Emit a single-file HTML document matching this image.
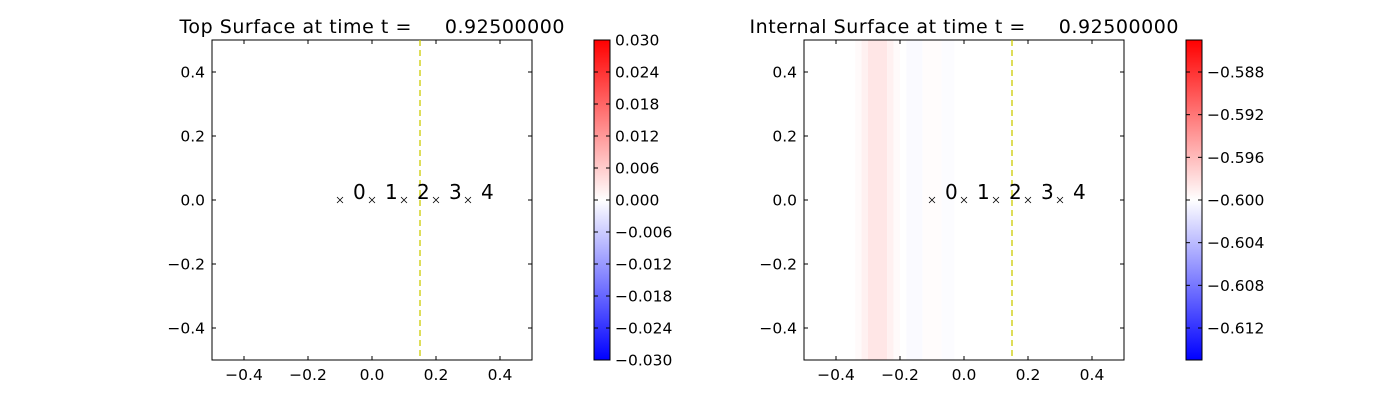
<!DOCTYPE html>
<html><head><meta charset="utf-8"><style>
body{margin:0;background:#fff;}
svg text{font-family:"DejaVu Sans","Liberation Sans",sans-serif;}
</style></head><body>
<svg id="chart" width="1400" height="400" xmlns="http://www.w3.org/2000/svg">
<defs>
<linearGradient id="bwr" x1="0" y1="1" x2="0" y2="0">
<stop offset="0" stop-color="#0000ff"/><stop offset="0.5" stop-color="#ffffff"/><stop offset="1" stop-color="#ff0000"/>
</linearGradient>
</defs>
</svg>
<script>
const axisTicks=[-0.4,-0.2,0.0,0.2,0.4];
const markerX=[-0.1,0.0,0.1,0.2,0.3];
const markerLabels=["0","1","2","3","4"];
const dashX=0.15;
const leftCbTicks=[0.030,0.024,0.018,0.012,0.006,0.000,-0.006,-0.012,-0.018,-0.024,-0.030];
const rightCbTicks=[-0.588,-0.592,-0.596,-0.600,-0.604,-0.608,-0.612];
const stripStart=[-0.34,-0.32,-0.30,-0.24,-0.22,-0.18,-0.13,-0.07];
const stripEnd=[-0.32,-0.30,-0.24,-0.22,-0.20,-0.13,-0.07,-0.03];
const stripValue=[-0.5997,-0.5992,-0.5985,-0.5992,-0.5997,-0.6003,-0.59985,-0.6002];
const titles=["Top Surface at time t =     0.92500000","Internal Surface at time t =     0.92500000"];
const titleWidths=[385,429];

const svg=document.getElementById('chart');
const NS='http://www.w3.org/2000/svg';
function mk(tag,attrs,parent){const e=document.createElementNS(NS,tag);for(const k in attrs)e.setAttribute(k,attrs[k]);(parent||svg).appendChild(e);return e;}
function bwr(f){f=Math.max(0,Math.min(1,f));let r,g,b;if(f<0.5){r=g=Math.round(255*f*2);b=255;}else{r=255;g=b=Math.round(255*(1-f)*2);}return `rgb(${r},${g},${b})`;}
const fmt=v=>(v<0?'\u2212':'')+Math.abs(v).toFixed(1);

function panel(x0,title,idx,strips){
  const y0=40,w=320,h=320;
  const sx=v=>x0+(v+0.5)*w, sy=v=>y0+(0.5-v)*h;
  const g=mk('g',{});
  
  
  if(strips){
    for(let i=0;i<stripStart.length;i++){
      const r=mk('rect',{x:sx(stripStart[i]),y:y0,width:sx(stripEnd[i])-sx(stripStart[i]),height:h,fill:bwr((stripValue[i]+0.615)/0.030)},g);
      
      
    }
  }
  const fr=mk('rect',{x:x0,y:y0,width:w,height:h,fill:'none',stroke:'#000','stroke-width':1},g);
  
  axisTicks.forEach(t=>{
    mk('line',{x1:sx(t),x2:sx(t),y1:y0+h,y2:y0+h-4,stroke:'#000'},g);
    mk('line',{x1:sx(t),x2:sx(t),y1:y0,y2:y0+4,stroke:'#000'},g);
    mk('line',{x1:x0,x2:x0+4,y1:sy(t),y2:sy(t),stroke:'#000'},g);
    mk('line',{x1:x0+w,x2:x0+w-4,y1:sy(t),y2:sy(t),stroke:'#000'},g);
    const tx=mk('text',{x:sx(t),y:y0+h+20,'text-anchor':'middle','font-size':15.5},g);tx.textContent=fmt(t);
    
    const ty=mk('text',{x:x0-7,y:sy(t)+5.5,'text-anchor':'end','font-size':15.5},g);ty.textContent=fmt(t);
    
  });
  const dl=mk('line',{x1:sx(dashX),x2:sx(dashX),y1:y0,y2:y0+h,stroke:'#cccc00','stroke-width':1.3,'stroke-dasharray':'6,4'},g);
  
  markerX.forEach((m,i)=>{
    const cx=sx(m),cy=sy(0);
    const mm=mk('path',{d:`M${cx-3},${cy-3}L${cx+3},${cy+3}M${cx-3},${cy+3}L${cx+3},${cy-3}`,stroke:'#000','stroke-width':0.8},g);
    
    const lt=mk('text',{x:cx+13,y:cy-1,'font-size':20},g);lt.textContent=markerLabels[i];
    
  });
  const tt=mk('text',{x:x0+w/2,y:33,'font-size':19,'text-anchor':'middle',textLength:titleWidths[idx],lengthAdjust:'spacing'},g);tt.textContent=title;
  tt.style.whiteSpace='pre';
  
}
function colorbar(x0,ticks,vmin,vmax,name){
  const y0=40,w=16,h=320;
  const g=mk('g',{});
  
  mk('rect',{x:x0,y:y0,width:w,height:h,fill:'url(#bwr)',stroke:'#000','stroke-width':1},g);
  ticks.forEach(t=>{
    const y=y0+(vmax-t)/(vmax-vmin)*h;
    mk('line',{x1:x0+w,x2:x0+w-4,y1:y,y2:y,stroke:'#000'},g);
    mk('line',{x1:x0,x2:x0+4,y1:y,y2:y,stroke:'#000'},g);
    const tx=mk('text',{x:x0+w+5,y:y+5.5,'font-size':15.5},g);
    tx.textContent=(t<0?'\u2212':'')+Math.abs(t).toFixed(3);
    
  });
}
panel(212,titles[0],0,false);
panel(804,titles[1],1,true);
colorbar(594,leftCbTicks,-0.030,0.030,'top-colorbar');
colorbar(1186,rightCbTicks,-0.615,-0.585,'internal-colorbar');
</script>
</body></html>
